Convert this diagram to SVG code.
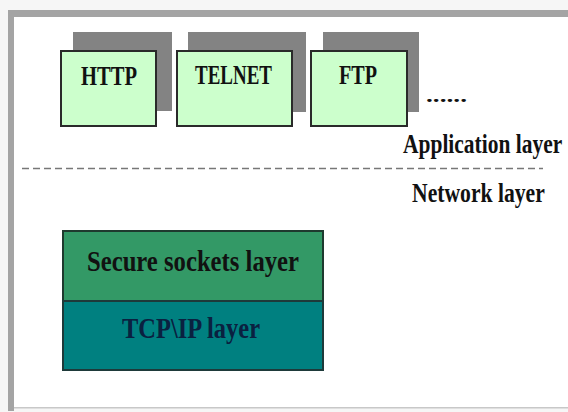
<svg xmlns="http://www.w3.org/2000/svg" width="568" height="412" viewBox="0 0 568 412">
<style>
.shadow{fill:#838383}
.app{fill:#ccffcc;stroke:#2a2a2a;stroke-width:2}
.t{font-family:"Liberation Serif","Times New Roman",serif;font-weight:bold;fill:#111}
.sep{stroke:#777;stroke-width:1.6;stroke-dasharray:7 4;fill:none}
</style>
<rect x="0" y="0" width="568" height="412" fill="#f6f6f6"/>
<rect x="14" y="17" width="554" height="390" fill="#ffffff"/>
<g id="frame">
<rect x="8" y="10" width="560" height="7" fill="#a4a4a4"/>
<rect x="8" y="10" width="6" height="401" fill="#a4a4a4"/>
<rect x="14" y="407" width="554" height="1.5" fill="#c8c8c8"/>
</g>
<g id="http">
<rect class="shadow" x="73" y="32" width="99" height="79"/>
<rect class="app" x="61" y="51" width="95" height="75"/>
<text class="t" x="109" y="85" font-size="28" text-anchor="middle" textLength="56" lengthAdjust="spacingAndGlyphs">HTTP</text>
</g>
<g id="telnet">
<rect class="shadow" x="188" y="32" width="118" height="80"/>
<rect class="app" x="177" y="51" width="115" height="75"/>
<text class="t" x="233.5" y="84" font-size="28" text-anchor="middle" textLength="77" lengthAdjust="spacingAndGlyphs">TELNET</text>
</g>
<g id="ftp">
<rect class="shadow" x="323" y="32" width="96" height="80"/>
<rect class="app" x="311" y="51" width="96" height="75"/>
<text class="t" x="358" y="84" font-size="28" text-anchor="middle" textLength="38" lengthAdjust="spacingAndGlyphs">FTP</text>
</g>
<g id="more">
<text class="t" x="426" y="102" font-size="18" textLength="41" lengthAdjust="spacingAndGlyphs">......</text>
</g>
<g id="connectors">
<line class="sep" x1="22" y1="168.5" x2="543" y2="168.5"/>
</g>
<g id="app-label">
<text class="t" transform="translate(403,153) scale(0.8,1)" x="0" y="0" font-size="27" textLength="199" lengthAdjust="spacingAndGlyphs">Application layer</text>
</g>
<g id="net-label">
<text class="t" transform="translate(412,202) scale(0.8,1)" x="0" y="0" font-size="27" textLength="166" lengthAdjust="spacingAndGlyphs">Network layer</text>
</g>
<g id="ssl">
<rect x="63" y="231" width="260" height="70" fill="#339966" stroke="#1e3a2e" stroke-width="2"/>
<text class="t" x="87" y="271" font-size="30" textLength="212" lengthAdjust="spacingAndGlyphs" fill="#0d1f14">Secure sockets layer</text>
</g>
<g id="tcp">
<rect x="63" y="301" width="260" height="69" fill="#008080" stroke="#1e3a3a" stroke-width="2"/>
<text class="t" x="122" y="338" font-size="30" textLength="138" lengthAdjust="spacingAndGlyphs" style="fill:#0a2140">TCP\IP layer</text>
</g>
</svg>
